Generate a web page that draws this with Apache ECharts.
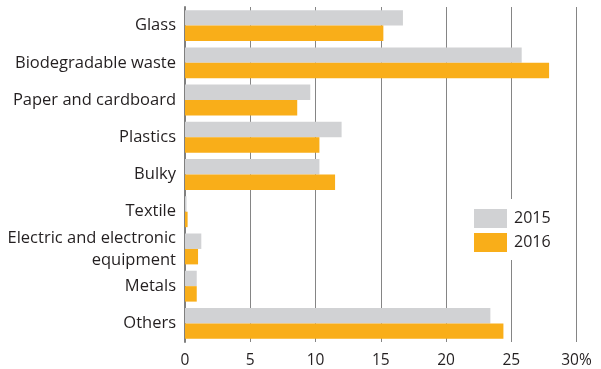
<!DOCTYPE html>
<html><head><meta charset="utf-8">
<script src="https://cdn.jsdelivr.net/npm/echarts@6/dist/echarts.min.js"></script>
<style>html,body{margin:0;padding:0;background:#fff}#c{width:601px;height:369px}</style>
</head><body><div id="c"></div>
<script>
const categories = ["Glass","Biodegradable waste","Paper and cardboard","Plastics","Bulky","Textile","Electric and electronic\nequipment","Metals","Others"];
const values2015 = [16.7, 25.8, 9.6, 12.0, 10.3, 0.12, 1.25, 0.9, 23.4];
const values2016 = [15.2, 27.9, 8.6, 10.3, 11.5, 0.2, 1.0, 0.9, 24.4];
const seriesNames = ["2015","2016"];
const xTicks = [0,5,10,15,20,25,30];

const chart = echarts.init(document.getElementById('c'), null, {renderer:'canvas'});
const font = "Open Sans";
chart.setOption({
  animation:false,
  grid:{left:185,right:24.5,top:7,bottom:26,containLabel:false},
  legend:{
    orient:'vertical', left:468, top:199, itemWidth:33, itemHeight:19, itemGap:5,
    padding:[10,8,8,6], backgroundColor:'#fff',
    textStyle:{fontFamily:font,fontSize:16,color:'#231f20',padding:[0,0,0,2]},
    icon:'rect', data:seriesNames, z:10
  },
  xAxis:{
    type:'value', min:0, max:30, interval:5,
    axisLine:{show:false}, axisTick:{show:false},
    splitLine:{show:true,lineStyle:{color:'#858585',width:1}},
    axisLabel:{fontFamily:font,fontSize:15.5,color:'#231f20',margin:11,
      formatter:v=> v===xTicks[xTicks.length-1] ? v+'%' : String(v)}
  },
  yAxis:{
    type:'category', inverse:true, data:categories,
    axisLine:{show:true,lineStyle:{color:'#808080',width:2}},
    axisTick:{show:false},
    axisLabel:{fontFamily:font,fontSize:16.5,color:'#231f20',margin:9,lineHeight:22,align:'right',padding:[0,0,0,0]}
  },
  series:[
    {name:seriesNames[0],type:'bar',data:values2015,itemStyle:{color:'#d1d2d4'},barGap:'0%',barCategoryGap:'17%'},
    {name:seriesNames[1],type:'bar',data:values2016,itemStyle:{color:'#f9ae19'},barGap:'0%',barCategoryGap:'17%'}
  ]
});
</script></body></html>
